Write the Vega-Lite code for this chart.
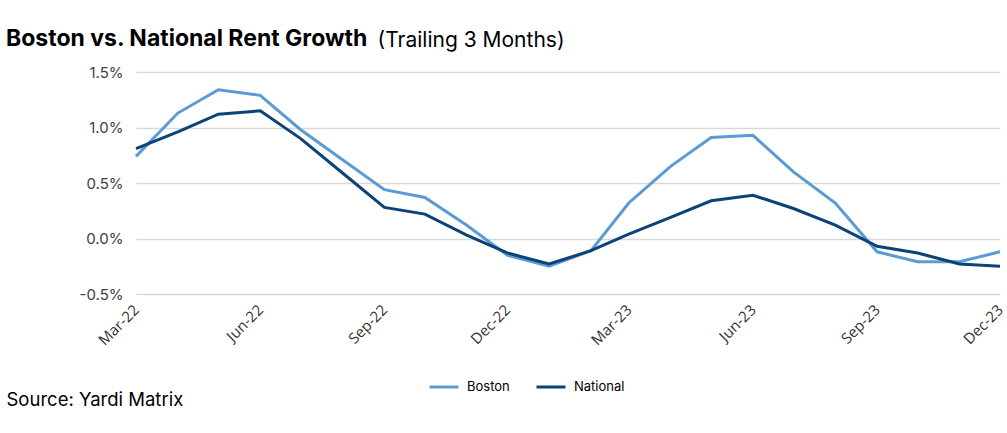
{
  "$schema": "https://vega.github.io/schema/vega-lite/v6.json",
  "width": 864,
  "height": 222,
  "autosize": {"type": "none"},
  "padding": {"left": 136, "top": 72, "right": 7, "bottom": 139},
  "background": "white",
  "title": {
    "text": "Boston vs. National Rent Growth",
    "anchor": "start",
    "frame": "group",
    "orient": "top",
    "offset": 0,
    "dx": -130,
    "dy": 40,
    "baseline": "alphabetic",
    "font": "Inter",
    "fontSize": 23,
    "fontWeight": "bold",
    "color": "#000000"
  },
  "config": {"view": {"stroke": null}},
  "data": {
    "values": [
      {"date": "2022-03-01", "series": "Boston", "value": 0.74},
      {"date": "2022-03-01", "series": "National", "value": 0.81},
      {"date": "2022-04-01", "series": "Boston", "value": 1.13},
      {"date": "2022-04-01", "series": "National", "value": 0.96},
      {"date": "2022-05-01", "series": "Boston", "value": 1.34},
      {"date": "2022-05-01", "series": "National", "value": 1.12},
      {"date": "2022-06-01", "series": "Boston", "value": 1.29},
      {"date": "2022-06-01", "series": "National", "value": 1.15},
      {"date": "2022-07-01", "series": "Boston", "value": 0.98},
      {"date": "2022-07-01", "series": "National", "value": 0.90},
      {"date": "2022-08-01", "series": "Boston", "value": 0.71},
      {"date": "2022-08-01", "series": "National", "value": 0.59},
      {"date": "2022-09-01", "series": "Boston", "value": 0.44},
      {"date": "2022-09-01", "series": "National", "value": 0.28},
      {"date": "2022-10-01", "series": "Boston", "value": 0.37},
      {"date": "2022-10-01", "series": "National", "value": 0.22},
      {"date": "2022-11-01", "series": "Boston", "value": 0.12},
      {"date": "2022-11-01", "series": "National", "value": 0.03},
      {"date": "2022-12-01", "series": "Boston", "value": -0.15},
      {"date": "2022-12-01", "series": "National", "value": -0.13},
      {"date": "2023-01-01", "series": "Boston", "value": -0.25},
      {"date": "2023-01-01", "series": "National", "value": -0.23},
      {"date": "2023-02-01", "series": "Boston", "value": -0.11},
      {"date": "2023-02-01", "series": "National", "value": -0.11},
      {"date": "2023-03-01", "series": "Boston", "value": 0.32},
      {"date": "2023-03-01", "series": "National", "value": 0.04},
      {"date": "2023-04-01", "series": "Boston", "value": 0.65},
      {"date": "2023-04-01", "series": "National", "value": 0.19},
      {"date": "2023-05-01", "series": "Boston", "value": 0.91},
      {"date": "2023-05-01", "series": "National", "value": 0.34},
      {"date": "2023-06-01", "series": "Boston", "value": 0.93},
      {"date": "2023-06-01", "series": "National", "value": 0.39},
      {"date": "2023-07-01", "series": "Boston", "value": 0.60},
      {"date": "2023-07-01", "series": "National", "value": 0.27},
      {"date": "2023-08-01", "series": "Boston", "value": 0.32},
      {"date": "2023-08-01", "series": "National", "value": 0.12},
      {"date": "2023-09-01", "series": "Boston", "value": -0.12},
      {"date": "2023-09-01", "series": "National", "value": -0.07},
      {"date": "2023-10-01", "series": "Boston", "value": -0.21},
      {"date": "2023-10-01", "series": "National", "value": -0.13},
      {"date": "2023-11-01", "series": "Boston", "value": -0.21},
      {"date": "2023-11-01", "series": "National", "value": -0.23},
      {"date": "2023-12-01", "series": "Boston", "value": -0.12},
      {"date": "2023-12-01", "series": "National", "value": -0.25}
    ]
  },
  "mark": {"type": "line", "strokeWidth": 3},
  "encoding": {
    "x": {
      "field": "date",
      "type": "temporal",
      "timeUnit": "utcyearmonth",
      "scale": {
        "type": "utc",
        "nice": false,
        "domain": [
          {"year": 2022, "month": 3, "date": 1, "utc": true},
          {"year": 2023, "month": 12, "date": 1, "utc": true}
        ]
      },
      "axis": {
        "values": [
          {"year": 2022, "month": 3, "date": 1, "utc": true},
          {"year": 2022, "month": 6, "date": 1, "utc": true},
          {"year": 2022, "month": 9, "date": 1, "utc": true},
          {"year": 2022, "month": 12, "date": 1, "utc": true},
          {"year": 2023, "month": 3, "date": 1, "utc": true},
          {"year": 2023, "month": 6, "date": 1, "utc": true},
          {"year": 2023, "month": 9, "date": 1, "utc": true},
          {"year": 2023, "month": 12, "date": 1, "utc": true}
        ],
        "labelExpr": "utcFormat(datum.value, '%b-%y')",
        "labelAngle": -45,
        "labelAlign": "right",
        "labelBaseline": "middle",
        "labelFont": "Open Sans",
        "labelFontSize": 15,
        "labelColor": "#333333",
        "labelPadding": 13,
        "labelOverlap": false,
        "labelFlush": false,
        "labelBound": false,
        "domain": false,
        "ticks": false,
        "grid": false,
        "title": "Source: Yardi Matrix",
        "titleFont": "Inter",
        "titleFontSize": 18.5,
        "titleFontWeight": "normal",
        "titleColor": "#000000",
        "titleX": -130,
        "titleY": 111,
        "titleAlign": "left",
        "titleAnchor": "start",
        "titleBaseline": "alphabetic"
      }
    },
    "y": {
      "field": "value",
      "type": "quantitative",
      "scale": {"domain": [-0.5, 1.5], "nice": false, "zero": false},
      "axis": {
        "values": [-0.5, 0, 0.5, 1, 1.5],
        "labelExpr": "replace(format(datum.value, '.1f'), '\u2212', '-') + '%'",
        "labelFont": "Inter",
        "labelFontSize": 15,
        "labelColor": "#404040",
        "labelPadding": 13,
        "domain": false,
        "ticks": false,
        "gridColor": "#d9d9d9",
        "gridWidth": 1.5,
        "title": "(Trailing 3 Months)",
        "titleAngle": 0,
        "titleX": 241,
        "titleY": -26,
        "titleAlign": "left",
        "titleBaseline": "alphabetic",
        "titleFont": "Inter",
        "titleFontSize": 21,
        "titleFontWeight": "normal",
        "titleColor": "#000000"
      }
    },
    "color": {
      "field": "series",
      "type": "nominal",
      "scale": {"domain": ["Boston", "National"], "range": ["#5B9BD5", "#0C4377"]},
      "legend": {
        "orient": "none",
        "legendX": 292,
        "legendY": 299,
        "direction": "horizontal",
        "title": null,
        "symbolType": "stroke",
        "symbolSize": 841,
        "symbolStrokeWidth": 3,
        "labelFont": "Inter",
        "labelFontSize": 13,
        "labelColor": "#000000",
        "labelOffset": 7,
        "columnPadding": 20
      }
    }
  }
}
